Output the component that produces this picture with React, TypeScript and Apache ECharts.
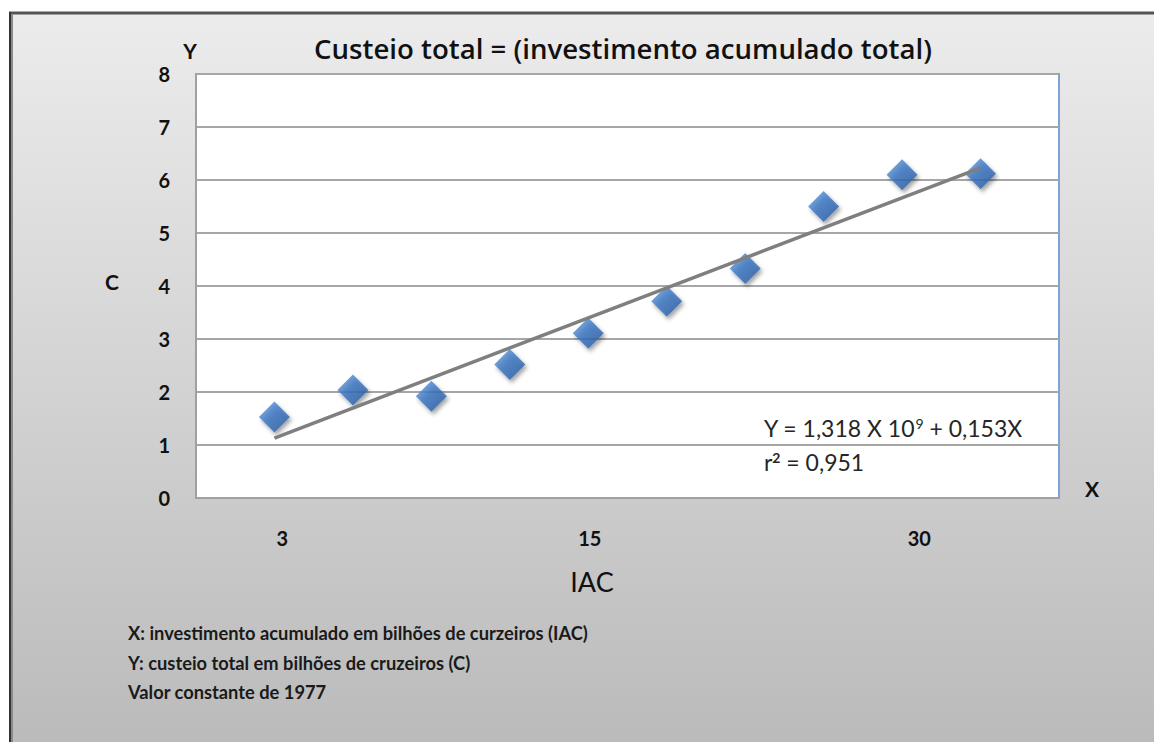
import React, { useEffect, useRef } from "react";
import * as echarts from "echarts";

// Data
const pointX = [1, 2, 3, 4, 5, 6, 7, 8, 9, 10];
const pointY = [1.53, 2.04, 1.92, 2.52, 3.11, 3.71, 4.33, 5.5, 6.1, 6.12];
const trendX = [1, 10];
const trendY = [1.13, 6.23];
const xTickLabels = ["3", "15", "30"];
const xTickAt = [1.1, 5.02, 9.22];
const yMin = 0;
const yMax = 8;

const titleText = "Custeio total = (investimento acumulado total)";
const notes = [
  "X: investimento acumulado em bilhões de curzeiros (IAC)",
  "Y: custeio total em bilhões de cruzeiros (C)",
  "Valor constante de 1977",
];

const FONT = "Lato, 'Open Sans', sans-serif";
const FONT2 = "'Open Sans', Lato, sans-serif";

export default function App() {
  const ref = useRef<HTMLDivElement>(null);
  useEffect(() => {
    document.body.style.margin = "0";
    const chart = echarts.init(ref.current!, undefined, { renderer: "svg" });
    const bgGrad = new echarts.graphic.LinearGradient(0, 0, 0, 1, [
      { offset: 0, color: "#ececec" },
      { offset: 1, color: "#bababa" },
    ]);
    const diamondGrad = new echarts.graphic.LinearGradient(0, 0, 1, 1, [
      { offset: 0, color: "#5b97dd" },
      { offset: 0.5, color: "#3771be" },
      { offset: 1, color: "#24579a" },
    ]);
    chart.setOption({
      animation: false,
      backgroundColor: "#ffffff",
      grid: {
        left: 196,
        top: 74,
        right: 95,
        bottom: 244,
        show: true,
        backgroundColor: "#ffffff",
        borderColor: "#7fa3d6",
        borderWidth: 2,
      },
      xAxis: {
        type: "value",
        min: 0,
        max: 11,
        z: 5,
        axisLine: { show: true, onZero: false, lineStyle: { color: "#a0a0a0", width: 2 } },
        axisTick: { show: false },
        splitLine: { show: false },
        axisLabel: {
          customValues: xTickAt,
          margin: 30,
          fontFamily: FONT,
          fontWeight: "bold",
          fontSize: 20,
          color: "#111",
          formatter: (v: number) => {
            const i = xTickAt.findIndex((p) => Math.abs(p - v) < 1e-6);
            return i >= 0 ? xTickLabels[i] : "";
          },
        },
      },
      yAxis: {
        type: "value",
        min: yMin,
        max: yMax,
        interval: 1,
        z: 5,
        axisLine: { show: true, lineStyle: { color: "#a0a0a0", width: 2 } },
        axisTick: { show: false },
        splitLine: { show: true, lineStyle: { color: "#a6a6a6", width: 2 } },
        axisLabel: {
          margin: 26,
          fontFamily: FONT,
          fontWeight: "bold",
          fontSize: 20,
          color: "#111",
        },
      },
      series: [
        {
          type: "scatter",
          data: pointX.map((x, i) => [x, pointY[i]]),
          symbol: "diamond",
          symbolSize: 31,
          itemStyle: {
            color: diamondGrad,
            shadowBlur: 4,
            shadowColor: "rgba(0,0,0,0.45)",
            shadowOffsetX: 2,
            shadowOffsetY: 3,
          },
          z: 6,
        },
        {
          type: "line",
          data: trendX.map((x, i) => [x, trendY[i]]),
          showSymbol: false,
          symbol: "none",
          lineStyle: { color: "#7f7f7f", width: 3.5 },
          z: 7,
        },
      ],
      graphic: {
        elements: [
          {
            type: "rect",
            z: -100,
            silent: true,
            shape: { x: 9, y: 12, width: 1160, height: 740 },
            style: { fill: bgGrad },
          },
          {
            type: "line",
            z: -90,
            shape: { x1: 9, y1: 13, x2: 1154, y2: 13 },
            style: { stroke: "#555555", lineWidth: 3 },
          },
          {
            type: "line",
            z: -90,
            shape: { x1: 10, y1: 12, x2: 10, y2: 742 },
            style: { stroke: "#333333", lineWidth: 2 },
          },
          {
            type: "line",
            z: -90,
            shape: { x1: 12, y1: 14, x2: 12, y2: 742 },
            style: { stroke: "#8a8a8a", lineWidth: 2 },
          },
          {
            type: "text",
            z: 100,
            x: 623,
            y: 48,
            style: {
              text: titleText,
              fontFamily: FONT2,
              fontWeight: 600,
              fontSize: 27.6,
              fill: "#111",
              align: "center",
              verticalAlign: "middle",
            },
          },
          {
            type: "text",
            z: 100,
            x: 190,
            y: 50,
            style: { text: "Y", fontFamily: FONT, fontWeight: "bold", fontSize: 21, fill: "#111", align: "center", verticalAlign: "middle" },
          },
          {
            type: "text",
            z: 100,
            x: 1092,
            y: 488,
            style: { text: "X", fontFamily: FONT, fontWeight: "bold", fontSize: 21, fill: "#111", align: "center", verticalAlign: "middle" },
          },
          {
            type: "text",
            z: 100,
            x: 112,
            y: 281,
            style: { text: "C", fontFamily: FONT, fontWeight: "bold", fontSize: 21, fill: "#111", align: "center", verticalAlign: "middle" },
          },
          {
            type: "text",
            z: 100,
            x: 592,
            y: 581,
            style: { text: "IAC", fontFamily: FONT, fontSize: 27, fill: "#111", align: "center", verticalAlign: "middle" },
          },
          {
            type: "text",
            z: 100,
            x: 764,
            y: 428,
            style: {
              text: "Y = 1,318 X 10{sup|9} + 0,153X",
              fontFamily: FONT,
              fontSize: 23,
              fill: "#262626",
              verticalAlign: "middle",
              rich: {
                sup: { fontFamily: FONT, fontSize: 14, fill: "#262626", verticalAlign: "top", padding: [0, 0, 10, 0] },
              },
            },
          },
          {
            type: "text",
            z: 100,
            x: 764,
            y: 462,
            style: {
              text: "r{supb|2} = 0,951",
              fontFamily: FONT,
              fontSize: 23,
              fill: "#262626",
              verticalAlign: "middle",
              rich: {
                supb: { fontFamily: FONT, fontWeight: "bold", fontSize: 14, fill: "#262626", verticalAlign: "top", padding: [0, 0, 10, 0] },
              },
            },
          },
          ...notes.map((t, i) => ({
            type: "text",
            z: 100,
            x: 128,
            y: 633 + i * 29.5,
            style: { text: t, fontFamily: FONT, fontWeight: "bold", fontSize: 18.3, fill: "#1a1a1a", verticalAlign: "middle" },
          })),
        ],
      },
    });
    return () => chart.dispose();
  }, []);
  return <div ref={ref} style={{ width: 1154, height: 742 }} />;
}
